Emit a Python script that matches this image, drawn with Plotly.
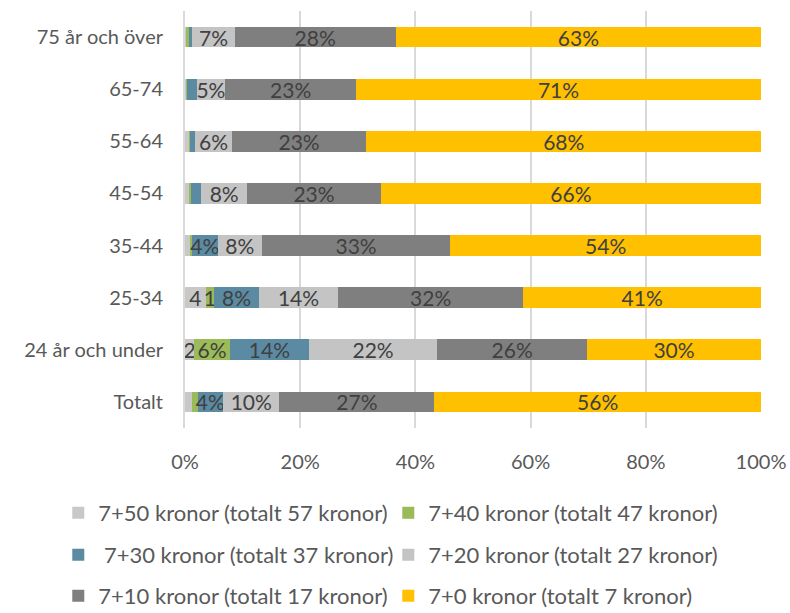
import plotly.graph_objects as go

categories = ["Totalt", "24 år och under", "25-34", "35-44", "45-54", "55-64", "65-74", "75 år och över"]

series_names = [
    "7+50 kronor (totalt 57 kronor)",
    "7+40 kronor (totalt 47 kronor)",
    " 7+30 kronor (totalt 37 kronor)",
    "7+20 kronor (totalt 27 kronor)",
    "7+10 kronor (totalt 17 kronor)",
    "7+0 kronor (totalt 7 kronor)",
]

# share in percent, order follows categories
v50 = [1.2, 1.6, 3.6, 0.9, 0.7, 0.7, 0.2, 0.2]
v40 = [1.0, 6.2, 1.45, 0.35, 0.3, 0.1, 0.1, 0.5]
v30 = [4.4, 13.7, 7.8, 4.4, 1.8, 1.0, 1.7, 0.6]
v20 = [9.8, 22.3, 13.7, 7.7, 8.0, 6.3, 5.0, 7.3]
v10 = [26.9, 26.0, 32.2, 32.7, 23.2, 23.4, 22.7, 28.0]
v0 = [56.7, 30.2, 41.25, 53.95, 66.0, 68.5, 70.3, 63.4]

t50 = ["", "2", "4", "", "", "", "", ""]
t40 = ["", "6%", "1", "", "", "", "", ""]
t30 = ["4%", "14%", "8%", "4%", "", "", "", ""]
t20 = ["10%", "22%", "14%", "8%", "8%", "6%", "5%", "7%"]
t10 = ["27%", "26%", "32%", "33%", "23%", "23%", "23%", "28%"]
t0 = ["56%", "30%", "41%", "54%", "66%", "68%", "71%", "63%"]

colors = ["#c8c8c8", "#9bbb59", "#5b8aa3", "#c4c4c4", "#7f7f7f", "#ffc000"]
values = [v50, v40, v30, v20, v10, v0]
texts = [t50, t40, t30, t20, t10, t0]
legends = ["legend", "legend", "legend2", "legend2", "legend3", "legend3"]

fig = go.Figure()
for name, vals, txt, col, lg in zip(series_names, values, texts, colors, legends):
    fig.add_trace(
        go.Bar(
            y=categories,
            x=[v / 100 for v in vals],
            orientation="h",
            name=name,
            marker={"color": col, "line": {"width": 0}},
            text=txt,
            textposition="inside",
            insidetextanchor="middle",
            textangle=0,
            textfont={"color": "#404040", "size": 21},
            legend=lg,
        )
    )

# plot area is 185..761 px wide and 11..428 px high
leg_common = dict(
    orientation="h",
    traceorder="normal",
    x=-0.22,
    xanchor="left",
    yanchor="middle",
    entrywidth=285,
    entrywidthmode="pixels",
    font={"size": 22, "color": "#595959"},
    bgcolor="rgba(0,0,0,0)",
)

fig.update_layout(
    barmode="stack",
    bargap=0.6,
    width=790,
    height=613,
    margin={"l": 185, "r": 29, "t": 11, "b": 185, "autoexpand": False},
    plot_bgcolor="white",
    paper_bgcolor="white",
    font={"family": "Lato, 'Open Sans', sans-serif", "size": 20, "color": "#595959"},
    uniformtext={"minsize": 21, "mode": "show"},
    legend={**leg_common, "y": (428 - 513) / 417},
    legend2={**leg_common, "y": (428 - 555) / 417},
    legend3={**leg_common, "y": (428 - 596) / 417},
)
fig.update_xaxes(
    range=[0, 1],
    tickvals=[0, 0.2, 0.4, 0.6, 0.8, 1.0],
    tickformat=".0%",
    showgrid=True,
    gridcolor="#d9d9d9",
    gridwidth=2,
    zeroline=False,
    automargin=False,
    ticklabelstandoff=20,
)
fig.update_yaxes(
    showline=True,
    linecolor="#d9d9d9",
    linewidth=2,
    automargin=False,
    ticklabelstandoff=16,
)

fig.write_html(
    "out.html",
    config={"displayModeBar": False},
    post_script="document.body.style.margin='0';",
)
